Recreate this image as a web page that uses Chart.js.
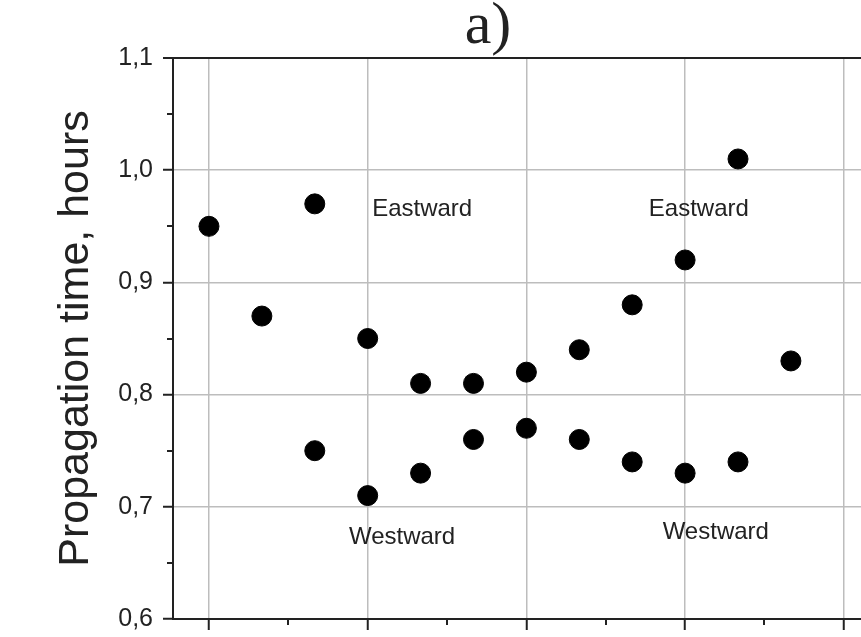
<!DOCTYPE html>
<html>
<head>
<meta charset="utf-8">
<script src="https://cdn.jsdelivr.net/npm/chart.js@4/dist/chart.umd.min.js"></script>
<style>
  body { margin: 0; background: #fff; }
  canvas { display: block; }
</style>
</head>
<body>
<canvas id="mycanvas" width="861" height="637"></canvas>
<script>
// run positions along the x axis (no labels drawn on this axis)
var eastX = [0, 1, 2, 3, 4, 5, 6, 7, 8, 9, 10, 11];
var eastward = [0.95, 0.87, 0.97, 0.85, 0.81, 0.81, 0.82, 0.84, 0.88, 0.92, 1.01, 0.83];
var westX = [2, 3, 4, 5, 6, 7, 8, 9, 10];
var westward = [0.75, 0.71, 0.73, 0.76, 0.77, 0.76, 0.74, 0.73, 0.74];

var xMajor = [0, 3, 6, 9, 12];
var xMinor = [1.5, 4.5, 7.5, 10.5];
var yMajor = [0.6, 0.7, 0.8, 0.9, 1.0, 1.1];
var yMinor = [0.65, 0.75, 0.85, 0.95, 1.05];
var yLabels = ['0,6', '0,7', '0,8', '0,9', '1,0', '1,1'];

var ink = '#222';
var gridGray = '#bdbdbd';

// text inside the plot, placed in data units
var notes = [
	{ text: 'Eastward', x: 4.03, y: 0.965 },
	{ text: 'Eastward', x: 9.26, y: 0.965 },
	{ text: 'Westward', x: 3.65, y: 0.673 },
	{ text: 'Westward', x: 9.58, y: 0.677 }
];

function toPoints(xs, ys) {
	var pts = [];
	for (var i in ys) pts.push({ x: xs[i], y: ys[i] });
	return pts;
}

var extras = {
	id: 'extras',
	afterDraw: function(chart) {
		var ctx = chart.ctx;
		var xs = chart.scales.x, ys = chart.scales.y;
		ctx.save();
		// minor tick marks
		ctx.strokeStyle = ink;
		ctx.lineWidth = 2;
		ctx.beginPath();
		yMinor.forEach(function(v) {
			var py = Math.round(ys.getPixelForValue(v));
			ctx.moveTo(xs.left - 6, py);
			ctx.lineTo(xs.left, py);
		});
		xMinor.forEach(function(v) {
			var px = Math.round(xs.getPixelForValue(v));
			ctx.moveTo(px, ys.bottom);
			ctx.lineTo(px, ys.bottom + 6);
		});
		ctx.stroke();

		// labels inside the plot
		ctx.fillStyle = ink;
		ctx.font = '24px "Liberation Sans", Arial, sans-serif';
		ctx.textAlign = 'center';
		ctx.textBaseline = 'middle';
		notes.forEach(function(n) {
			ctx.fillText(n.text, xs.getPixelForValue(n.x), ys.getPixelForValue(n.y));
		});

		// panel letter
		ctx.font = '60px "Liberation Serif", "Times New Roman", serif';
		ctx.textBaseline = 'alphabetic';
		ctx.fillText('a)', 488, 43);
		ctx.restore();
	}
};

var ctx = document.getElementById('mycanvas');

var scatter = new Chart(ctx, {
	type: 'scatter',
	data: {
		datasets: [
			{
				label: 'Eastward',
				data: toPoints(eastX, eastward),
				backgroundColor: '#000',
				borderColor: '#000',
				pointRadius: 10
			},
			{
				label: 'Westward',
				data: toPoints(westX, westward),
				backgroundColor: '#000',
				borderColor: '#000',
				pointRadius: 10
			}
		]
	},
	options: {
		responsive: false,
		animation: false,
		layout: { autoPadding: false, padding: { top: 58, right: 0, left: 0, bottom: 0 } },
		plugins: {
			legend: { display: false },
			tooltip: { enabled: false }
		},
		scales: {
			x: {
				type: 'linear',
				min: -0.68,
				max: 12.325,
				afterBuildTicks: function(scale) {
					scale.ticks = xMajor.map(function(v) { return { value: v }; });
				},
				afterFit: function(scale) { scale.height = 18; },
				ticks: { display: false },
				grid: {
					color: gridGray,
					lineWidth: 1.5,
					drawTicks: true,
					tickLength: 11,
					tickColor: ink,
					tickWidth: 2
				},
				border: { display: true, color: ink, width: 2 }
			},
			y: {
				min: 0.6,
				max: 1.1,
				afterBuildTicks: function(scale) {
					scale.ticks = yMajor.map(function(v) { return { value: v }; });
				},
				afterFit: function(scale) { scale.width = 173; },
				ticks: {
					color: ink,
					padding: 10,
					font: { family: '"Liberation Sans", Arial, sans-serif', size: 25, lineHeight: 0.4 },
					callback: function(value, index) { return yLabels[index]; }
				},
				grid: {
					color: function(c) {
						return c.tick && c.tick.value >= 1.1 ? ink : gridGray;
					},
					lineWidth: function(c) {
						return c.tick && c.tick.value >= 1.1 ? 2 : 1.5;
					},
					drawTicks: true,
					tickLength: 10,
					tickColor: ink,
					tickWidth: 2
				},
				border: { display: true, color: ink, width: 2 },
				title: {
					display: true,
					text: 'Propagation time, hours',
					color: ink,
					padding: { top: 50, bottom: 0 },
					font: { family: '"Liberation Sans", Arial, sans-serif', size: 43, weight: 'normal' }
				}
			}
		}
	},
	plugins: [extras]
});
</script>
</body>
</html>
